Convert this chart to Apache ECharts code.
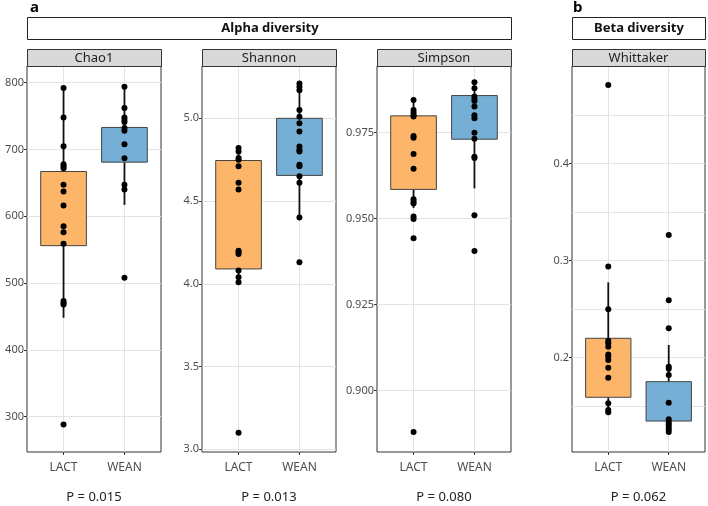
<!DOCTYPE html>
<html>
<head>
<meta charset="utf-8">
<script src="https://cdn.jsdelivr.net/npm/echarts@6/dist/echarts.min.js"></script>
<style>
  html, body { margin: 0; background: #fff; }
  #main { width: 708px; height: 506px; }
</style>
</head>
<body>
<div id="main"></div>
<script>
// groups on the x axis of every panel
const groups = ['LACT', 'WEAN'];

// Chao1
const chao1Lact = [792, 748, 705, 678, 675, 672, 647, 637, 616, 585, 576, 559, 473, 470, 468, 288];
const chao1Wean = [794, 762, 748, 744, 741, 732, 728, 708, 687, 647, 640, 508];
// [whisker low, q1, q3, whisker high] for LACT, WEAN
const chao1Box = [[448, 556, 667, 792], [617, 681, 733, 794]];
const chao1Ticks = [300, 400, 500, 600, 700, 800];

// Shannon
const shannonLact = [4.82, 4.80, 4.76, 4.75, 4.71, 4.61, 4.57, 4.20, 4.19, 4.18, 4.08, 4.04, 4.01, 3.10];
const shannonWean = [5.21, 5.19, 5.17, 5.05, 5.01, 4.97, 4.92, 4.83, 4.81, 4.80, 4.72, 4.71, 4.65, 4.61, 4.40, 4.13];
const shannonBox = [[4.01, 4.09, 4.745, 4.82], [4.40, 4.655, 5.0, 5.21]];
const shannonTicks = [3.0, 3.5, 4.0, 4.5, 5.0];

// Simpson
const simpsonLact = [0.9845, 0.9816, 0.9808, 0.9801, 0.9797, 0.9740, 0.9735, 0.9688, 0.9645,
  0.9556, 0.9549, 0.9544, 0.9506, 0.9499, 0.9443, 0.8879];
const simpsonWean = [0.9897, 0.9879, 0.9855, 0.9848, 0.9842, 0.9826, 0.9801, 0.9792, 0.9750,
  0.9732, 0.9680, 0.9676, 0.9510, 0.9406];
const simpsonBox = [[0.9531, 0.9585, 0.9799, 0.9845], [0.9588, 0.9731, 0.9858, 0.9897]];
const simpsonTicks = [0.900, 0.925, 0.950, 0.975];

// Whittaker
const whittakerLact = [0.481, 0.294, 0.250, 0.2175, 0.2148, 0.2113, 0.2034, 0.201, 0.1976,
  0.1897, 0.1794, 0.153, 0.1461, 0.1437];
const whittakerWean = [0.3265, 0.2592, 0.2303, 0.1907, 0.1887, 0.1822, 0.1536, 0.1365, 0.1337,
  0.1313, 0.1289, 0.1262, 0.1234];
const whittakerBox = [[0.1437, 0.1592, 0.220, 0.2777], [0.1234, 0.1347, 0.1753, 0.2131]];
const whittakerTicks = [0.2, 0.3, 0.4];
const whittakerMinor = [0.15, 0.25, 0.35, 0.45];

const pValues = ['P = 0.015', 'P = 0.013', 'P = 0.080', 'P = 0.062'];

const FONT = '"Noto Sans", sans-serif';
const colors = ['#FDB56A', '#76AFD5'];

const panels = [
  { name: 'Chao1', left: 27, width: 134, min: 247, max: 825, ticks: chao1Ticks, dec: 0,
    lact: chao1Lact, wean: chao1Wean, box: chao1Box },
  { name: 'Shannon', left: 202, width: 134, min: 2.984, max: 5.316, ticks: shannonTicks, dec: 1,
    lact: shannonLact, wean: shannonWean, box: shannonBox },
  { name: 'Simpson', left: 377, width: 134, min: 0.8821, max: 0.9944, ticks: simpsonTicks, dec: 3,
    lact: simpsonLact, wean: simpsonWean, box: simpsonBox },
  { name: 'Whittaker', left: 572, width: 133, min: 0.1028, max: 0.5007, ticks: whittakerTicks, dec: 1,
    lact: whittakerLact, wean: whittakerWean, box: whittakerBox, minor: whittakerMinor }
];

const TOP = 66, HEIGHT = 386;

const grid = [], xAxis = [], yAxis = [], series = [], graphic = [];

panels.forEach(function (p, i) {
  grid.push({ left: p.left, top: TOP, width: p.width, height: HEIGHT,
    show: true, backgroundColor: '#fff', borderColor: '#333', borderWidth: 1 });

  xAxis.push({
    type: 'value', gridIndex: i, min: 0.4, max: 2.6,
    axisLine: { show: false },
    axisTick: { show: true, length: 3, lineStyle: { color: '#333' }, customValues: [1, 2] },
    axisLabel: { customValues: [1, 2], margin: 10, color: '#4D4D4D', fontSize: 12, fontFamily: FONT,
      formatter: function (v) { return groups[Math.round(v) - 1]; } },
    splitLine: { show: true, lineStyle: { color: '#E3E3E3', width: 1 } }
  });

  const mainY = yAxis.length;
  yAxis.push({
    type: 'value', gridIndex: i, min: p.min, max: p.max,
    axisLine: { show: false },
    axisTick: { show: true, length: 3, lineStyle: { color: '#333' }, customValues: p.ticks },
    axisLabel: { customValues: p.ticks, margin: 3, color: '#4D4D4D', fontSize: 11, fontFamily: FONT,
      formatter: function (v) { return v.toFixed(p.dec); } },
    splitLine: { show: true, lineStyle: { color: '#E3E3E3', width: 1 } }
  });
  if (p.minor) {
    yAxis.push({
      type: 'value', gridIndex: i, min: p.min, max: p.max, position: 'left',
      axisLine: { show: false },
      axisTick: { show: false, customValues: p.minor },
      axisLabel: { show: false, customValues: p.minor },
      splitLine: { show: true, lineStyle: { color: '#E3E3E3', width: 1 } }
    });
  }

  series.push({
    type: 'custom', xAxisIndex: i, yAxisIndex: mainY, z: 2, silent: true,
    data: p.box.map(function (b, k) { return [k + 1].concat(b); }),
    renderItem: function (params, api) {
      const x = api.value(0);
      const lo = api.coord([x, api.value(1)]);
      const q1 = api.coord([x, api.value(2)]);
      const q3 = api.coord([x, api.value(3)]);
      const hi = api.coord([x, api.value(4)]);
      const half = api.size([0.75, 0])[0] / 2;
      const wStyle = { stroke: '#111', lineWidth: 1.8 };
      return {
        type: 'group',
        children: [
          { type: 'line', shape: { x1: lo[0], y1: lo[1], x2: q1[0], y2: q1[1] }, style: wStyle },
          { type: 'line', shape: { x1: q3[0], y1: q3[1], x2: hi[0], y2: hi[1] }, style: wStyle },
          { type: 'rect', shape: { x: q3[0] - half, y: q3[1], width: half * 2, height: q1[1] - q3[1] },
            style: { fill: colors[params.dataIndex], stroke: '#444', lineWidth: 1 } }
        ]
      };
    }
  });

  series.push({
    type: 'scatter', xAxisIndex: i, yAxisIndex: mainY, z: 3, silent: true,
    symbolSize: 6, itemStyle: { color: '#000', opacity: 1 },
    data: p.lact.map(function (v) { return [1, v]; }).concat(p.wean.map(function (v) { return [2, v]; }))
  });

  // strip header
  graphic.push({ type: 'rect', shape: { x: p.left + 0.5, y: 49.5, width: p.width, height: 17 },
    style: { fill: '#D9D9D9', stroke: '#333', lineWidth: 1 }, z: 10 });
  graphic.push({ type: 'text', x: p.left + p.width / 2, y: 58, z: 11,
    style: { text: p.name, fill: '#222', font: '13px ' + FONT, textAlign: 'center', textVerticalAlign: 'middle' } });
  // p value
  graphic.push({ type: 'text', x: p.left + p.width / 2, y: 497,
    style: { text: pValues[i], fill: '#222', font: '13px ' + FONT, textAlign: 'center', textVerticalAlign: 'middle' } });
});

graphic.push(
  { type: 'text', x: 30, y: 8, style: { text: 'a', fill: '#000', font: 'bold 15px ' + FONT, textVerticalAlign: 'middle' } },
  { type: 'text', x: 573, y: 8, style: { text: 'b', fill: '#000', font: 'bold 15px ' + FONT, textVerticalAlign: 'middle' } },
  { type: 'rect', shape: { x: 27.5, y: 17.5, width: 484, height: 22 }, style: { fill: '#fff', stroke: '#222', lineWidth: 1 } },
  { type: 'text', x: 270, y: 28.5, style: { text: 'Alpha diversity', fill: '#111', font: 'bold 13px ' + FONT, textAlign: 'center', textVerticalAlign: 'middle' } },
  { type: 'rect', shape: { x: 572.5, y: 17.5, width: 133, height: 22 }, style: { fill: '#fff', stroke: '#222', lineWidth: 1 } },
  { type: 'text', x: 639, y: 28.5, style: { text: 'Beta diversity', fill: '#111', font: 'bold 13px ' + FONT, textAlign: 'center', textVerticalAlign: 'middle' } }
);

const myChart = echarts.init(document.getElementById('main'));
myChart.setOption({
  animation: false,
  backgroundColor: '#fff',
  grid: grid,
  xAxis: xAxis,
  yAxis: yAxis,
  series: series,
  graphic: graphic
});
</script>
</body>
</html>
